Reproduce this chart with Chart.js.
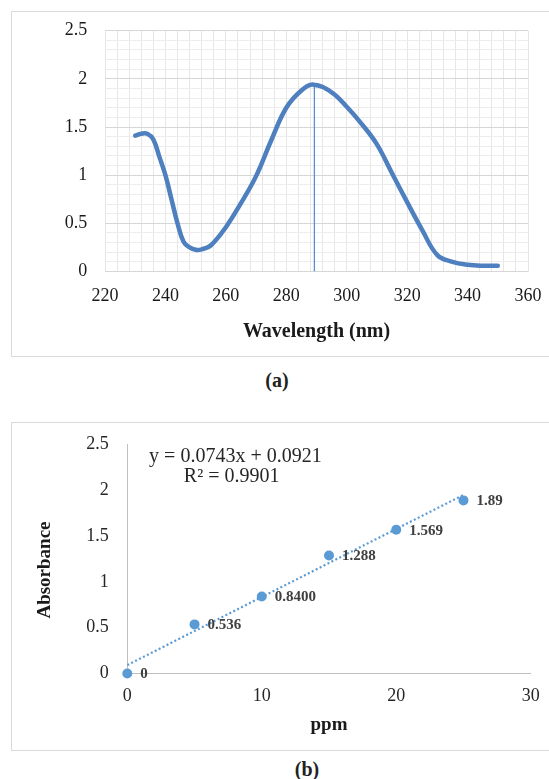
<!DOCTYPE html>
<html><head><meta charset="utf-8">
<script src="https://cdn.jsdelivr.net/npm/chart.js@4"></script>
<style>
html,body{margin:0;padding:0;background:#fff;width:549px;height:779px;overflow:hidden;position:relative;}
.frame{position:absolute;border:1px solid #d9d9d9;box-sizing:border-box;}
.cap{position:absolute;font:bold 20px "Liberation Serif";color:#222;transform:translate(-50%,-50%);white-space:nowrap;}
canvas{position:absolute;left:0;}
</style></head><body>
<div class="frame" style="left:11px;top:11px;width:545px;height:346px"></div>
<div class="frame" style="left:11px;top:422px;width:545px;height:329px"></div>
<canvas id="ca" width="549" height="360" style="top:0;width:549px;height:360px"></canvas>
<canvas id="cb" width="549" height="350" style="top:400px;width:549px;height:350px"></canvas>
<div class="cap" style="left:277px;top:380px">(a)</div>
<div class="cap" style="left:307px;top:769px">(b)</div>
<script>
// ---- Chart (a): UV spectrum ----
const wavelength = [230,232,234,236,238,240,242,244,246,248,250,252,255,260,265,270,275,280,285,289,295,300,305,310,315,320,325,330,335,340,345,350];
const absorbance = [1.41,1.43,1.43,1.37,1.19,1.00,0.75,0.50,0.31,0.25,0.225,0.23,0.27,0.46,0.71,0.99,1.36,1.70,1.88,1.94,1.86,1.71,1.53,1.32,1.02,0.72,0.43,0.17,0.10,0.07,0.06,0.06];
const peakX = [289.3, 289.3];
const peakY = [0, 1.94];
const xTicksA = [220,240,260,280,300,320,340,360];
const yTicksA = [0,0.5,1,1.5,2,2.5];

// ---- Chart (b): calibration ----
const ppm = [0,5,10,15,20,25];
const absB = [0,0.536,0.84,1.288,1.569,1.89];
const absLabels = ["0","0.536","0.8400","1.288","1.569","1.89"];
const trendX = [0,25];
const trendY = [0.0921,1.9496];
const eqText = "y = 0.0743x + 0.0921";
const r2Text = "R\u00B2 = 0.9901";
const xTicksB = [0,10,20,30];
const yTicksB = [0,0.5,1,1.5,2,2.5];

const serif = '"Liberation Serif", "Times New Roman", serif';
const clear = 'rgba(0,0,0,0)';

new Chart(document.getElementById('ca'), {
  type: 'scatter',
  data: {
    datasets: [
      { data: wavelength.map((w,i)=>({x:w,y:absorbance[i]})), showLine:true, borderColor:'#4e7fbf', borderWidth:4.5, pointRadius:0, tension:0.4, borderCapStyle:'round', borderJoinStyle:'round' },
      { data: peakX.map((w,i)=>({x:w,y:peakY[i]})), showLine:true, borderColor:'#5b8fd0', borderWidth:1.3, pointRadius:0 }
    ]
  },
  options: {
    responsive:false, animation:false,
    layout:{ padding:{ left:0, top:30.7, right:21, bottom:16.3 } },
    plugins:{ legend:{display:false}, tooltip:{enabled:false} },
    scales:{
      x:{
        type:'linear', min:220, max:360,
        afterBuildTicks(s){ const t=[]; for(let v=220; v<=360; v+=4) t.push({value:v}); s.ticks=t; },
        afterFit(s){ s.height = 72.2; },
        ticks:{ autoSkip:false, maxRotation:0, padding:0, color:'#1a1a1a', font:{family:serif,size:18},
          callback:(v)=> xTicksA.includes(v) ? String(v) : '' },
        grid:{ drawTicks:true, tickLength:13.7, tickColor:clear, color:'#e6e6e6', lineWidth:1 },
        border:{ display:false },
        title:{ display:true, text:'Wavelength (nm)', color:'#1a1a1a', font:{family:serif,size:20,weight:'bold'}, padding:0 }
      },
      y:{
        type:'linear', min:0, max:2.5,
        afterBuildTicks(s){ const t=[]; for(let i=0;i<=25;i++) t.push({value:i/10}); s.ticks=t; },
        afterFit(s){ s.width = 105; },
        ticks:{ autoSkip:false, padding:0, color:'#1a1a1a', font:{family:serif,size:18},
          callback:(v)=>{ const r=Math.round(v*10)/10; return yTicksA.includes(r) ? String(r) : ''; } },
        grid:{ drawTicks:true, tickLength:17.7, tickColor:clear, lineWidth:1,
          color:(c)=>{ const r=Math.round(c.tick.value*10); return r%5===0 ? '#d6d6d6' : '#ececec'; } },
        border:{ display:false }
      }
    }
  }
});

const bTextPlugin = {
  id:'bText',
  afterDatasetsDraw(chart){
    const ctx = chart.ctx;
    const meta = chart.getDatasetMeta(0);
    ctx.save();
    ctx.fillStyle = '#404040';
    ctx.font = 'bold 15px ' + serif;
    ctx.textAlign = 'left';
    ctx.textBaseline = 'middle';
    meta.data.forEach((el,i)=>{ ctx.fillText(absLabels[i], el.x + 13, el.y + 1); });
    ctx.restore();
  },
  afterDraw(chart){
    const ctx = chart.ctx;
    const ys = chart.scales.y;
    ctx.save();
    ctx.fillStyle = '#262626';
    ctx.font = '20px ' + serif;
    ctx.textAlign = 'center';
    ctx.textBaseline = 'middle';
    ctx.fillText(eqText, 235.4, 57);
    ctx.fillText(r2Text, 231.6, 77);
    ctx.font = 'bold 19px ' + serif;
    ctx.fillStyle = '#1a1a1a';
    ctx.translate(44.7, (ys.top + ys.bottom)/2 + 11);
    ctx.rotate(-Math.PI/2);
    ctx.fillText('Absorbance', 0, 0);
    ctx.restore();
  }
};

new Chart(document.getElementById('cb'), {
  type: 'scatter',
  data: {
    datasets: [
      { data: ppm.map((p,i)=>({x:p,y:absB[i]})), backgroundColor:'#5b9bd5', borderColor:'#5b9bd5', pointRadius:5, pointBorderWidth:0, showLine:false, clip:false },
      { data: trendX.map((p,i)=>({x:p,y:trendY[i]})), showLine:true, borderColor:'#5b9bd5', borderWidth:2.2, borderDash:[2,2.4], pointRadius:0, clip:false }
    ]
  },
  plugins:[bTextPlugin],
  options: {
    responsive:false, animation:false,
    layout:{ padding:{ left:0, top:44.5, right:18.3, bottom:13.6 } },
    plugins:{ legend:{display:false}, tooltip:{enabled:false} },
    scales:{
      x:{
        type:'linear', min:0, max:30,
        afterBuildTicks(s){ s.ticks = xTicksB.map(v=>({value:v})); },
        afterFit(s){ s.height = 62.9; },
        ticks:{ padding:0, maxRotation:0, color:'#262626', font:{family:serif,size:18} },
        grid:{ display:true, drawOnChartArea:false, drawTicks:true, tickLength:12.4, tickColor:clear },
        border:{ display:true, color:'#bfbfbf', width:1 },
        title:{ display:true, text:'ppm', color:'#1a1a1a', font:{family:serif,size:19,weight:'bold'}, padding:0 }
      },
      y:{
        type:'linear', min:0, max:2.5,
        afterBuildTicks(s){ s.ticks = yTicksB.map(v=>({value:v})); },
        afterFit(s){ s.width = 127.3; },
        ticks:{ padding:0, color:'#262626', font:{family:serif,size:18}, callback:(v)=>String(v) },
        grid:{ display:true, drawOnChartArea:false, drawTicks:true, tickLength:18.6, tickColor:clear },
        border:{ display:true, color:'#bfbfbf', width:1 }
      }
    }
  }
});
</script>
</body></html>
